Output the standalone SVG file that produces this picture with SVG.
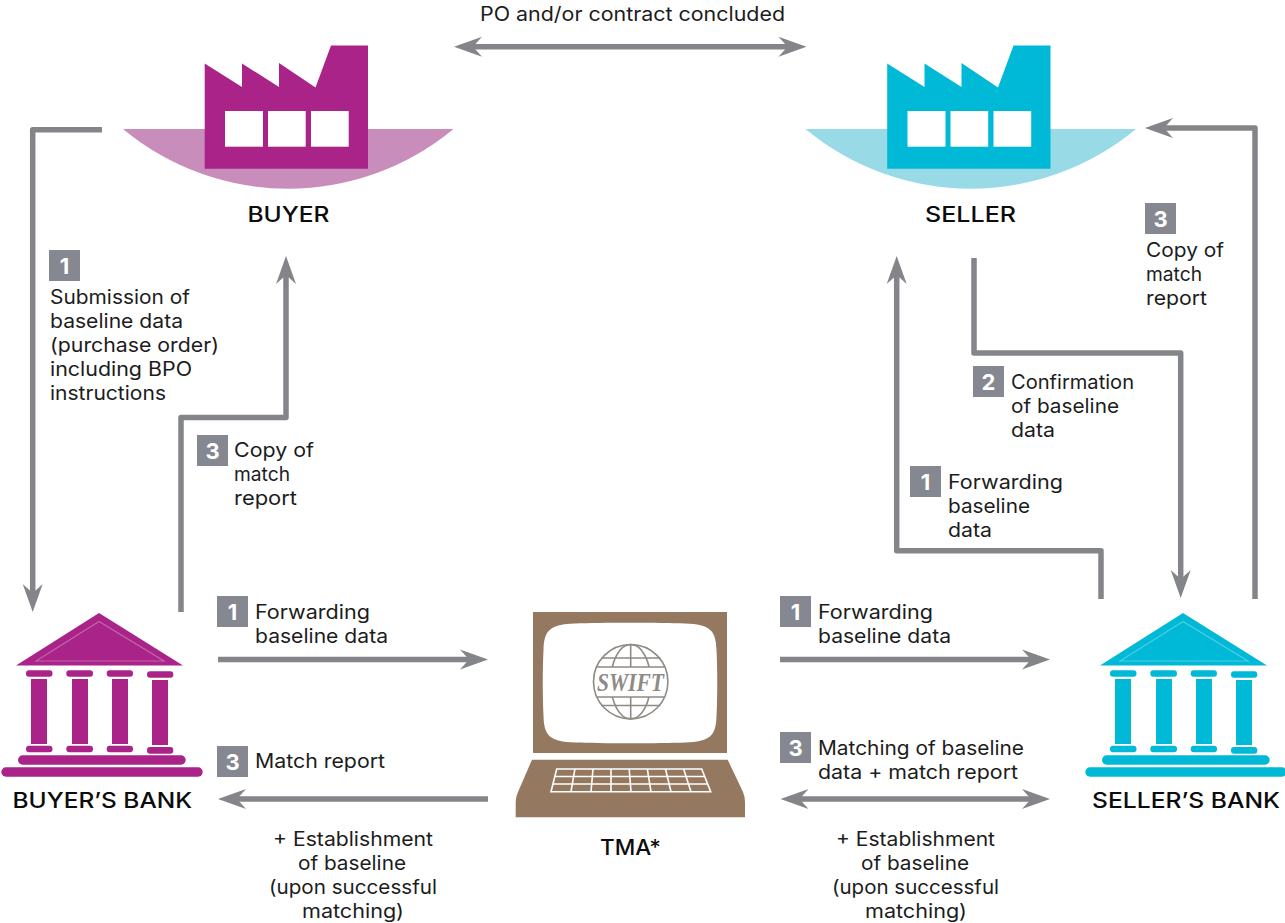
<svg xmlns="http://www.w3.org/2000/svg" width="1285" height="923" viewBox="0 0 1285 923">
<style>
text{font-family:"Inter","Open Sans","Liberation Sans",sans-serif;font-size:19.500px;fill:#1c1c1c}
.t{font-size:21.500px;font-weight:500;fill:#0c0c0c}
.d{font-size:22px;font-weight:700;fill:#fff;text-anchor:middle}
.b{fill:#858891}
.c{fill:none;stroke:#848589;stroke-width:5.500;stroke-linejoin:round}
.a{marker-end:url(#h)}
.aa{marker-end:url(#h);marker-start:url(#h)}
.bu{fill:#a92389}.bul{fill:#c98dbc}
.se{fill:#00b9d6}.sel{fill:#98dae6}
.tm{fill:#957860}
.w{fill:#fff}
.g{fill:none;stroke:#8f8a85;stroke-width:1.600}
</style>
<defs>
<marker id="h" markerUnits="userSpaceOnUse" markerWidth="30" markerHeight="22" refX="15" refY="11" orient="auto-start-reverse" viewBox="0 0 30 22">
<path d="M29,11 L1,1 L10,11 L1,21 Z" fill="#848589"/>
</marker>
<g id="factory">
<path d="M204.700,63.500 L242,87 V63.500 L279,87 V63 L315.500,87.500 L331,45.500 H368 V168.700 H204.700 Z"/>
<rect class="w" x="225" y="111" width="38" height="35.700"/>
<rect class="w" x="268" y="111" width="37.700" height="35.700"/>
<rect class="w" x="311" y="111" width="37.700" height="35.700"/>
</g>
<g id="bank">
<path d="M99,613 L183,665.500 H16 Z"/>
<path d="M36,661 L99,621.500 L164,661 Z" fill="none" stroke="#fff" stroke-opacity=".3" stroke-width="1.200"/>
<rect x="26" y="670.300" width="26.500" height="6.500" rx="3"/>
<rect x="66.300" y="670.300" width="26.700" height="6.500" rx="3"/>
<rect x="106.700" y="670.300" width="26.300" height="6.500" rx="3"/>
<rect x="147" y="671.300" width="26.300" height="6.500" rx="3"/>
<rect x="31" y="679" width="16" height="65"/>
<rect x="72" y="679" width="16" height="65"/>
<rect x="112" y="679" width="16" height="65"/>
<rect x="152" y="680" width="16" height="65"/>
<rect x="26" y="745.700" width="26.500" height="6.600" rx="3"/>
<rect x="66.300" y="745.700" width="26.700" height="6.600" rx="3"/>
<rect x="106.700" y="745.700" width="26.300" height="6.600" rx="3"/>
<rect x="147" y="747" width="26.300" height="6.700" rx="3"/>
<rect x="18" y="755.300" width="167.700" height="9.400" rx="4.700"/>
<rect x="1.300" y="767.300" width="201.400" height="9.400" rx="4.700"/>
</g>
</defs>

<g id="connectors">
<path class="c a" d="M102,129.700 H32.700 V598"/>
<path class="c a" d="M181,612 V417.500 H286 V270"/>
<path class="c a" d="M974,258 V353 H1180.700 V584"/>
<path class="c a" d="M1101,599 V550.700 H896.700 V270"/>
<path class="c a" d="M1255,599 V128 H1159"/>
<path class="c a" d="M218,659.500 H474"/>
<path class="c a" d="M780,659.500 H1036"/>
<path class="c a" d="M488,799 H232"/>
<path class="c aa" d="M794.500,799 H1036"/>
<path class="c aa" d="M468,46.700 H792.500"/>
</g>

<g id="buyer">
<path class="bul" d="M123,129 H453.500 A258.600,258.600 0 0 1 123,129 Z"/>
<use href="#factory" class="bu"/>
<text class="t" lengthAdjust="spacingAndGlyphs" x="247.500" y="221.500" textLength="82">BUYER</text>
</g>

<g id="seller">
<path class="sel" d="M805.500,129 H1136 A258.600,258.600 0 0 1 805.500,129 Z"/>
<use href="#factory" class="se" x="682.500"/>
<text class="t" lengthAdjust="spacingAndGlyphs" x="925" y="221.500" textLength="91">SELLER</text>
</g>

<g id="buyers-bank">
<use href="#bank" class="bu"/>
<text class="t" lengthAdjust="spacingAndGlyphs" x="12.500" y="808" textLength="179.500">BUYER’S BANK</text>
</g>

<g id="sellers-bank">
<use href="#bank" class="se" x="1084"/>
<text class="t" lengthAdjust="spacingAndGlyphs" x="1092" y="808" textLength="188">SELLER’S BANK</text>
</g>

<g id="tma">
<path class="tm" d="M533,612 H727 V753 H533 Z"/>
<path class="w" d="M575,623.500 C600,622.500 660,622.500 685,623.500 C710,624.500 716,630 716.500,650 C717.500,670 717.500,696 716.500,716 C716,736 710,741.500 685,742.500 C660,743.500 600,743.500 575,742.500 C550,741.500 544,736 543.500,716 C542.500,696 542.500,670 543.500,650 C544,630 550,624.500 575,623.500 Z"/>
<path class="tm" d="M532,759.700 H727.700 L743,792 Q745,797 745,802 V817.300 H515.700 V802 Q515.700,797 518,792 Z"/>
<g fill="none" stroke="#fff" stroke-width="1.600">
<path d="M556.700,769 H701.700 L710.700,791.700 H551 Z"/>
<path d="M554.800,776.500 H704.700 M553,784 H707.700"/>
<path d="M574.900,769 L571,791.700 M593,769 L591,791.700 M611,769 L611,791.700 M629.200,769 L631,791.700 M647.300,769 L651,791.700 M665.500,769 L671,791.700 M683.600,769 L691,791.700"/>
</g>
<g id="swift-logo">
<ellipse class="g" cx="630.700" cy="681.700" rx="20" ry="37.200"/>
<path class="g" d="M630.700,644.500 V719 M601,658 H660.500 M601,705.500 H660.500"/>
<rect class="w" x="592" y="667" width="78" height="30"/>
<circle class="g" cx="630.700" cy="681.700" r="37.200"/>
<path class="g" d="M597,667 H664.500 M597,697 H664.500"/>
<text x="597" y="690.500" textLength="67" lengthAdjust="spacingAndGlyphs" style="font-family:'Liberation Serif',serif;font-style:italic;font-weight:700;font-size:25px;fill:#8f8a85">SWIFT</text>
</g>
<text class="t" lengthAdjust="spacingAndGlyphs" x="600" y="855" textLength="61">TMA*</text>
</g>

<g id="labels">
<text lengthAdjust="spacingAndGlyphs" x="480" y="21" textLength="305">PO and/or contract concluded</text>

<rect class="b" x="49" y="250" width="31" height="31"/><text class="d" x="64.500" y="273.500">1</text>
<text lengthAdjust="spacingAndGlyphs" x="50" y="304" textLength="140">Submission of</text>
<text lengthAdjust="spacingAndGlyphs" x="50" y="328" textLength="133">baseline data</text>
<text lengthAdjust="spacingAndGlyphs" x="50" y="352" textLength="169">(purchase order)</text>
<text lengthAdjust="spacingAndGlyphs" x="50" y="376" textLength="142">including BPO</text>
<text lengthAdjust="spacingAndGlyphs" x="50" y="400" textLength="116">instructions</text>

<rect class="b" x="197" y="435" width="31" height="31"/><text class="d" x="212.500" y="458.500">3</text>
<text lengthAdjust="spacingAndGlyphs" x="234" y="457" textLength="80">Copy of</text>
<text lengthAdjust="spacingAndGlyphs" x="234" y="481" textLength="56">match</text>
<text lengthAdjust="spacingAndGlyphs" x="234" y="505" textLength="63">report</text>

<rect class="b" x="1145" y="203" width="31" height="31"/><text class="d" x="1160.500" y="226.500">3</text>
<text lengthAdjust="spacingAndGlyphs" x="1146" y="257" textLength="78">Copy of</text>
<text lengthAdjust="spacingAndGlyphs" x="1146" y="281" textLength="56">match</text>
<text lengthAdjust="spacingAndGlyphs" x="1146" y="305" textLength="61">report</text>

<rect class="b" x="973" y="366" width="31" height="31"/><text class="d" x="988.500" y="389.500">2</text>
<text lengthAdjust="spacingAndGlyphs" x="1011" y="389" textLength="123">Confirmation</text>
<text lengthAdjust="spacingAndGlyphs" x="1011" y="413" textLength="108">of baseline</text>
<text lengthAdjust="spacingAndGlyphs" x="1011" y="437" textLength="44">data</text>

<rect class="b" x="910" y="466" width="31" height="31"/><text class="d" x="925.500" y="489.500">1</text>
<text lengthAdjust="spacingAndGlyphs" x="948" y="489" textLength="115">Forwarding</text>
<text lengthAdjust="spacingAndGlyphs" x="948" y="513" textLength="82">baseline</text>
<text lengthAdjust="spacingAndGlyphs" x="948" y="537" textLength="44">data</text>

<rect class="b" x="217" y="596" width="31" height="31"/><text class="d" x="232.500" y="619.500">1</text>
<text lengthAdjust="spacingAndGlyphs" x="255" y="619" textLength="115">Forwarding</text>
<text lengthAdjust="spacingAndGlyphs" x="255" y="643" textLength="133">baseline data</text>

<rect class="b" x="780" y="596" width="31" height="31"/><text class="d" x="795.500" y="619.500">1</text>
<text lengthAdjust="spacingAndGlyphs" x="818" y="619" textLength="115">Forwarding</text>
<text lengthAdjust="spacingAndGlyphs" x="818" y="643" textLength="133">baseline data</text>

<rect class="b" x="217" y="746" width="31" height="31"/><text class="d" x="232.500" y="769.500">3</text>
<text lengthAdjust="spacingAndGlyphs" x="255" y="768" textLength="130">Match report</text>

<rect class="b" x="780" y="732" width="31" height="31"/><text class="d" x="795.500" y="755.500">3</text>
<text lengthAdjust="spacingAndGlyphs" x="818" y="755" textLength="206">Matching of baseline</text>
<text lengthAdjust="spacingAndGlyphs" x="818" y="779" textLength="200">data + match report</text>

<text lengthAdjust="spacingAndGlyphs" x="273" y="845.500" textLength="160">+ Establishment</text>
<text lengthAdjust="spacingAndGlyphs" x="298" y="869.500" textLength="108">of baseline</text>
<text lengthAdjust="spacingAndGlyphs" x="269" y="893.500" textLength="168">(upon successful</text>
<text lengthAdjust="spacingAndGlyphs" x="302" y="917.500" textLength="102">matching)</text>

<text lengthAdjust="spacingAndGlyphs" x="836" y="845.500" textLength="159">+ Establishment</text>
<text lengthAdjust="spacingAndGlyphs" x="861" y="869.500" textLength="108">of baseline</text>
<text lengthAdjust="spacingAndGlyphs" x="832" y="893.500" textLength="167">(upon successful</text>
<text lengthAdjust="spacingAndGlyphs" x="865" y="917.500" textLength="102">matching)</text>
</g>
</svg>
